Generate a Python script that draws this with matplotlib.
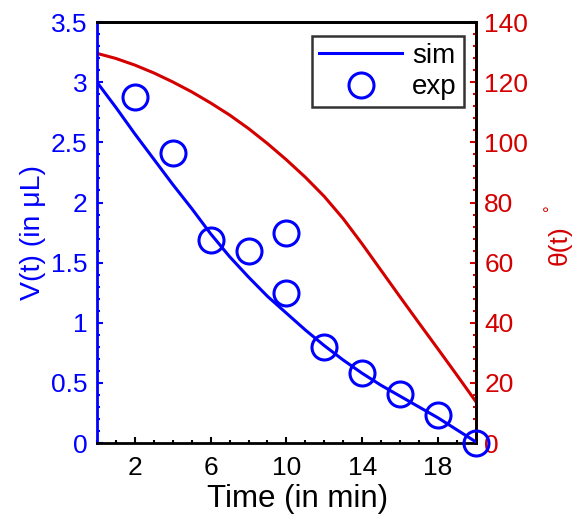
import numpy as np
import matplotlib
matplotlib.use("Agg")
import matplotlib.pyplot as plt
from matplotlib.ticker import MultipleLocator

plt.rcParams["font.family"] = ["Liberation Sans", "DejaVu Sans"]

BLUE = "#0000ff"
RED = "#d40000"

# simulated volume and contact angle
t_sim = [0, 1, 2, 3, 4, 5, 6, 7, 8, 9, 10, 11, 12, 13, 14, 15, 16, 17, 18, 19, 20]
v_sim = [3.0, 2.79, 2.57, 2.36, 2.15, 1.95, 1.74, 1.55, 1.38, 1.22, 1.08,
         0.94, 0.81, 0.69, 0.58, 0.48, 0.39, 0.30, 0.21, 0.11, 0.01]
theta_sim = [129.6, 127.9, 125.7, 123.1, 120.1, 116.8, 113.1, 109.1, 104.6, 99.6, 94.2,
             88.4, 82.0, 74.6, 66.2, 57.4, 48.6, 39.9, 31.3, 22.6, 13.8]

# measured volume
t_exp = [2, 4, 6, 8, 10, 10, 12, 14, 16, 18, 20]
v_exp = [2.88, 2.41, 1.69, 1.60, 1.75, 1.25, 0.80, 0.58, 0.41, 0.23, 0.0]

fig = plt.figure(figsize=(5.74, 5.14), dpi=100)
ax = fig.add_axes([0.169, 0.138, 0.660, 0.819])
ax2 = ax.twinx()

ax.plot(t_sim, v_sim, color=BLUE, lw=2.2, label="sim", zorder=3)
ax.plot(t_exp, v_exp, "o", ms=18, mfc="none", mec=BLUE, mew=2.2,
        label="exp", clip_on=False, zorder=4)
ax2.plot(t_sim, theta_sim, color=RED, lw=2.2)

ax.set_xlim(0, 20)
ax.set_ylim(0, 3.5)
ax2.set_ylim(0, 140)

ax.set_xticks([2, 6, 10, 14, 18])
ax.xaxis.set_minor_locator(MultipleLocator(1))
ax.set_yticks([0, 0.5, 1, 1.5, 2, 2.5, 3, 3.5])
ax.set_yticklabels(["0", "0.5", "1", "1.5", "2", "2.5", "3", "3.5"])
ax.yaxis.set_minor_locator(MultipleLocator(0.1))
ax2.set_yticks(range(0, 141, 20))
ax2.yaxis.set_minor_locator(MultipleLocator(4))

ax.tick_params(axis="both", which="both", direction="in", labelsize=19)
ax.tick_params(which="major", length=4, width=1.5)
ax.tick_params(which="minor", length=2, width=1.5)
ax.tick_params(axis="y", which="both", colors=BLUE, right=False, pad=7)
ax.tick_params(axis="x", which="both", top=False, colors="black", pad=9)
ax2.tick_params(axis="y", which="both", direction="in", colors=RED,
                labelsize=19, pad=6)
ax2.tick_params(which="major", length=4, width=1.5)
ax2.tick_params(which="minor", length=2, width=1.5)

for sp in ax.spines.values():
    sp.set_linewidth(2)
ax.spines["left"].set_color(BLUE)
ax2.spines["left"].set_visible(False)
ax2.spines["right"].set_color(RED)
ax2.spines["right"].set_linewidth(2)
ax2.spines["top"].set_linewidth(2)
ax2.spines["bottom"].set_visible(False)

ax.set_xlabel("Time (in min)", fontsize=22.5)
ax.xaxis.set_label_coords(0.53, -0.098)
ax.xaxis.label.set_va("top")
ax.set_ylabel("V(t) (in μL)", fontsize=20.5, color=BLUE, labelpad=3)
ax2.set_ylabel("θ(t)", fontsize=19, color=RED)
ax2.yaxis.set_label_coords(1.19, 0.47)
ax2.text(1.20, 0.56, "°", transform=ax2.transAxes, color=RED,
         fontsize=12, rotation=90, ha="center", va="center")

ax.set_zorder(ax2.get_zorder() + 1)
ax.patch.set_visible(False)

leg = ax.legend(loc="upper right", fontsize=20, frameon=True, fancybox=False,
                edgecolor="black", handlelength=3.0, handletextpad=0.35,
                borderpad=0.25, labelspacing=0.2, borderaxespad=0,
                bbox_to_anchor=(0.968, 0.967))
leg.get_frame().set_linewidth(1.8)
leg.set_zorder(10)

fig.savefig("out.png", dpi=100)
